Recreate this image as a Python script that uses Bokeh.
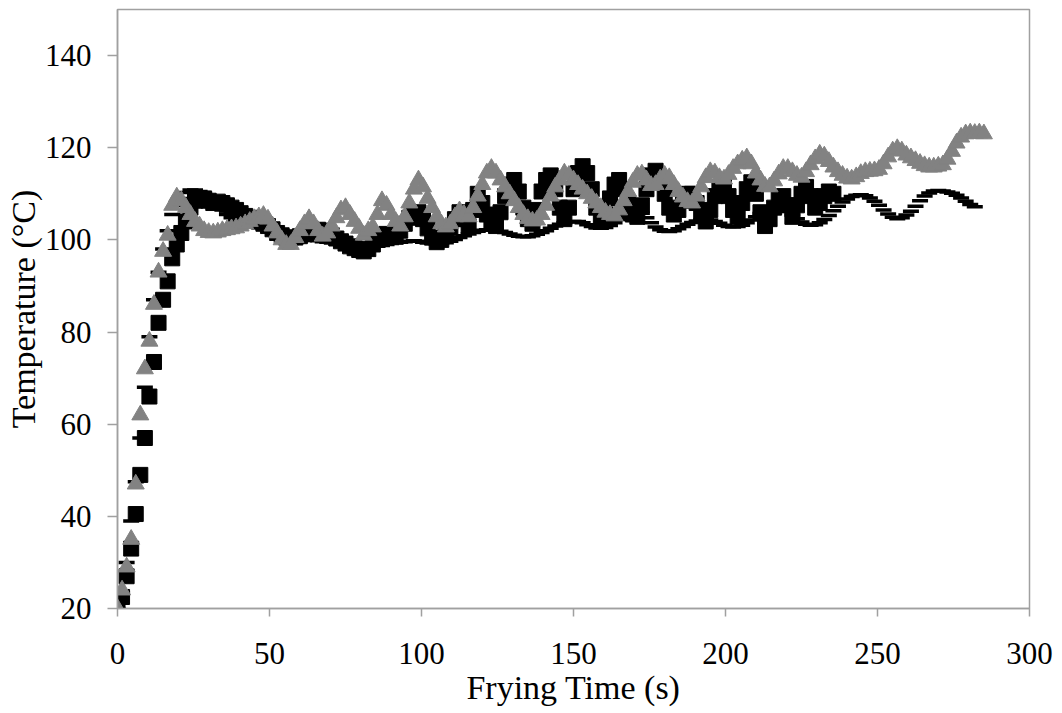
from bokeh.plotting import figure
from bokeh.models import Range1d, FixedTicker
from bokeh.embed import file_html
from bokeh.resources import INLINE

# sampling interval of the logged temperatures (s)
dt = 1.5

# black squares
temp_squares = [
    20, 22.5, 27, 33, 40.5, 49, 57, 66, 73.5, 82, 87, 91, 96, 99, 101.5, 104, 107, 108.5, 109, 109,
    108.5, 108, 108.3, 108, 107.5, 107, 106.5, 105.8, 105.2, 104.8, 104.3, 104, 103.5, 103, 102.3, 101.5,
    101, 100.5, 100.5, 100.5, 100.8, 101.2, 101.6, 102, 102.2, 102, 101.5, 101, 100.3, 99.7, 99.2, 98.6,
    98.2, 97.8, 97.5, 98, 99, 100, 101, 101.3, 101, 100.7,
    102, 103.5, 104.8, 105.6, 106, 104.5, 102.5, 100.5, 99.5, 100, 101, 102.5, 104.5, 106, 104.5,
    103, 106.5, 110, 108, 105.5, 103.5, 103, 106, 109.5, 112, 113, 110.5, 107, 104.5, 103.5,
    106.5, 110.5, 113, 114, 111, 107, 104.5, 107, 111, 114.5, 116, 114.5, 111, 107, 104,
    105.5, 109, 112, 113, 111, 108, 105.5, 105, 107.5, 111, 114, 115, 113, 110, 107,
    105.5, 106.5, 108.5, 110, 110, 108, 105.5, 104, 106.5, 109.5, 111.5, 112, 109.5, 106.5, 105,
    108, 111, 112.5, 110, 106, 103, 104.5, 107, 108.8, 109.5, 107.5, 105, 107.5, 110, 111.5,
    109.5, 107, 108, 109.5, 110.5, 110,
]

# black dashes
temp_dashes = [
    20, 23.5, 30, 39, 47.5, 57, 68, 79, 87, 93, 98, 102, 105.5, 107.5, 109, 110.3, 110.8, 110.8, 110.5,
    110, 109.3, 108.5, 107.5, 106.5, 105.5, 104.8, 104.3, 103.8, 103.4, 103.1, 102.9, 102.7, 102.5,
    102.3, 102, 101.7, 101.3, 101, 100.7, 100.5, 100.3, 100.2, 100, 99.9, 99.8, 99.6, 99.5, 99.3, 99.1,
    99, 98.9, 98.7, 98.6, 98.5, 98.4, 98.4, 98.5, 98.6, 98.8, 99, 99.2, 99.4, 99.5, 99.6, 99.7, 99.8,
    99.7, 99.5, 99.3, 99.2, 99.1, 99.2, 99.4, 99.7, 100.1, 100.5, 100.9, 101.3, 101.6, 101.9, 102.1,
    102.2, 102.2, 102.1, 101.9, 101.6, 101.3, 101, 100.8, 100.7, 100.7, 100.9, 101.2, 101.6, 102, 102.5,
    103, 103.4, 103.7, 103.9, 104, 104, 103.7, 103.3, 102.9, 102.6, 102.5, 102.7, 103.1, 103.7, 104.4,
    105.1, 105.8, 106.3, 106.4, 105.8, 104.8, 103.7, 102.8, 102.2, 101.9, 101.8, 102, 102.4, 102.9,
    103.4, 103.8, 104.1, 104.3, 104.4, 104.3, 104, 103.6, 103.2, 102.9, 102.8, 102.9, 103.2, 103.7,
    104.3, 105, 105.7, 106.3, 106.8, 107.1, 107.1, 106.8, 106.2, 105.4, 104.6, 103.9, 103.4, 103.2,
    103.3, 103.7, 104.4, 105.3, 106.3, 107.3, 108.2, 108.9, 109.4, 109.7, 109.8, 109.6, 109.1, 108.4,
    107.5, 106.5, 105.6, 104.9, 104.6, 104.8, 105.4, 106.2, 107.3, 108.5, 109.5, 110.2, 110.6, 110.7,
    110.6, 110.4, 110.1, 109.7, 109.1, 108.4, 107.7, 107.2,
]

# grey triangles
temp_triangles = [
    20, 24, 29, 35, 47, 62, 72, 78, 86, 93, 97.5, 101, 107.5, 109.3, 108.5, 107, 105.5, 104, 103, 102,
    101.6, 101.5, 101.7, 102, 102.2, 102.4, 102.6, 103, 103.5, 104, 104.6, 105, 105.3, 104.5, 103,
    101.5, 100, 99, 99, 100.5, 102, 103.5, 104.6, 103.5, 102, 100.8, 101.5, 103, 104.8, 106.5, 107,
    105.5, 104, 102.5, 101, 102, 102.8, 105.5, 108.5, 107.5, 105.5, 104, 103, 105, 108, 111, 113,
    111.5, 109, 107, 105, 103.5, 102.8, 103.5, 105, 106.3, 105.5, 105, 107, 109.5, 112, 114.5, 115.5,
    114.5, 113, 111.5, 110, 108.5, 107, 105.5, 104.6, 104.1, 104.3, 105.5, 107.5, 109.5, 111.5, 113,
    114.5, 114, 113, 112, 111, 110, 109, 108, 107, 106, 105.5, 105.2, 106.5, 108.5, 110.5, 112.5, 114,
    114.3, 113, 111.8, 112, 113.2, 114, 113.5, 112, 110.5, 109.3, 108.3, 108, 109.5, 111.5, 113.5,
    114.8, 114.5, 113.5, 113.2, 114.2, 115.5, 116.5, 117.3, 117.8, 116.5, 114.5, 113, 111.6, 111.5,
    112.8, 114.3, 115.5, 115.5, 114.8, 114, 113.6, 114.8, 116.3, 117.6, 118.6, 118.2, 117, 115.8,
    114.8, 114, 113.4, 113.2, 113.7, 114.4, 114.8, 114.9, 115, 115.3, 116.5, 118, 119.3, 119.8, 119.3,
    118.4, 117.8, 117.2, 116.6, 116.1, 115.8, 115.8, 116, 116.3, 117.5, 119.2, 121, 122.3, 123, 123.2,
    123.1, 123.2, 123,
]

x_ticks = [0, 50, 100, 150, 200, 250, 300]
y_ticks = [20, 40, 60, 80, 100, 120, 140]

def times(values):
    return [i * dt for i in range(len(values))]

SERIF = "Liberation Serif"
AXIS_GREY = "#a0a0a0"

p = figure(width=1062, height=713, output_backend="svg", toolbar_location=None,
           x_range=Range1d(0, 300), y_range=Range1d(20, 150),
           min_border_left=117, min_border_right=33, min_border_top=9, min_border_bottom=105)

p.grid.visible = False
p.outline_line_color = AXIS_GREY
p.outline_line_width = 1.5
p.background_fill_color = "white"
p.border_fill_color = "white"

p.scatter(times(temp_squares), temp_squares, marker="square", size=15,
          fill_color="black", line_color="black")
p.scatter(times(temp_dashes), temp_dashes, marker="dash", size=16,
          line_color="black", line_width=3.5)
p.scatter(times(temp_triangles), temp_triangles, marker="triangle", size=17,
          fill_color="#828282", line_color="#828282")

for ax in (p.xaxis[0], p.yaxis[0]):
    ax.axis_line_color = AXIS_GREY
    ax.axis_line_width = 1.5
    ax.major_tick_line_color = AXIS_GREY
    ax.major_tick_line_width = 1.5
    ax.major_tick_in = 0
    ax.minor_tick_line_color = None
    ax.major_label_text_font = SERIF
    ax.major_label_text_font_size = "31px"
    ax.major_label_text_color = "black"
    ax.axis_label_text_font = SERIF
    ax.axis_label_text_font_size = "34px"
    ax.axis_label_text_font_style = "normal"
    ax.axis_label_text_color = "black"

p.xaxis.ticker = FixedTicker(ticks=x_ticks)
p.yaxis.ticker = FixedTicker(ticks=y_ticks)
p.xaxis.major_tick_out = 8
p.yaxis.major_tick_out = 10
p.xaxis.major_label_standoff = 26
p.yaxis.major_label_standoff = 16
p.xaxis.axis_label = "Frying Time (s)"
p.yaxis.axis_label = "Temperature (°C)"
p.xaxis.axis_label_standoff = 2
p.yaxis.axis_label_standoff = 0

open("out.html", "w").write(file_html(p, INLINE))
